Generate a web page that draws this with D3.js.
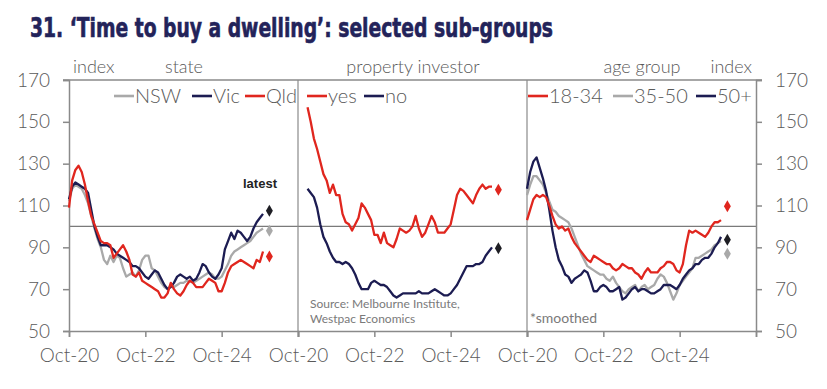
<!DOCTYPE html>
<html><head><meta charset="utf-8">
<script src="https://cdn.jsdelivr.net/npm/d3@7/dist/d3.min.js"></script>
<style>
html,body{margin:0;padding:0;background:#fff;}
svg{display:block;}
</style></head>
<body>
<svg id="chart" width="827" height="389"></svg>
<script>
// ---------------- DATA ----------------
const titleText = "31. \u2018Time to buy a dwelling\u2019: selected sub-groups";
const yTicks = [50, 70, 90, 110, 130, 150, 170];
const xTickMonths = [0, 24, 48, 72];          // months since Oct-20
const xTickLabels = ["Oct-20", "Oct-22", "Oct-24"];
const panelTitles = ["state", "property investor", "age group"];

// monthly, Oct-20 .. Nov-25 (index 0..61)
const nsw = [112,118,120,119,118,115,111,105,99,94, 90,84,82,86,83,86,85,80,76,77,
  78,76,79,84,86,86,80,79,76,73, 71,70,72,71,72,73,73,74,74,73,
  74,75,76,77,78,77,75,75,76,79, 82,86,88,89,90,91,92,93,95,97, 98,99];
const vic = [113,119,121,120,119,118,116,108,100,95, 91,91,91,90,89,87,86,85,84,83,
  81,81,80,78,76,75,77,79,78,75, 72,70,71,73,76,77,76,75,76,74,
  75,78,82,81,78,76,75,77,80,89, 93,97,94,98,97,95,93,95,99,102, 104,106];
const qld = [109,122,127,129,126,120,112,105,101,97, 93,92,92,91,85,87,89,91,88,84,
  77,76,78,74,73,72,71,70,69,66, 66,68,73,70,68,67,69,72,74,73,
  71,71,71,73,75,74,73,69,69,73, 78,81,82,83,84,83,82,81,80,84, 83,88];

const investorYes = [null,null,null,157,150,142,137,131,125,122, 116,120,115,115,106,102,101,98,101,104,
  111,109,106,103,96,96,92,97,92,91, 90,94,99,98,97,98,100,105,99,95,
  97,101,105,102,97,97,97,99,101,108, 115,118,117,115,113,111,115,118,120,118, 119,119];
const investorNo = [null,null,null,118,116,114,109,101,95,92, 88,85,83,83,82,83,82,80,77,73,
  70,70,70,73,74,73,72,72,71,69, 67,66,67,68,68,68,68,68,69,68,
  68,68,69,70,69,68,67,67,68,70, 72,75,78,81,81,81,82,82,83,86, 88,90];

const age1834 = [103,108,113,115,114,115,114,110,105,101, 99,100,98,99,95,92,90,88,86,84,
  83,86,85,84,83,82,82,80,79,80, 82,81,80,80,78,77,75,78,80,78,
  78,78,80,81,83,83,82,79,78,82, 91,98,97,98,97,96,95,97,100,102, 102,103];
const age3550 = [115,120,124,124,122,120,116,112,108,107, 105,104,103,102,99,95,91,87,84,81,
  80,79,78,77,77,75,74,76,73,71, 69,68,70,71,72,69,71,72,70,71,
  72,75,77,76,73,69,65,68,72,74, 76,78,80,85,85,86,87,88,89,91, 92,93];
const age50plus = [118,126,131,133,128,123,117,108,98,90, 84,81,77,76,73,75,76,77,79,78,
  74,69,69,71,72,71,69,69,70,71, 65,66,68,70,71,69,70,70,69,68,
  68,69,70,72,72,72,71,70,72,75, 77,79,80,82,82,84,85,85,87,90, 92,95];

const latestMonth = 63;
const latestState = [107.5, 97.9, 85.6];      // Vic, NSW, Qld
const latestInvestor = [117.5, 89.6];          // yes, no
const latestAge = [109.6, 93.6, 86.9];         // 18-34, 50+, 35-50

// ---------------- STYLE ----------------
const RED = "#e0261e", NAVY = "#1c1c52", GREY = "#a9a9a9", BLACK = "#1e1e24";
const AXIS = "#8a8a8a", TXT = "#5a5a5a";
const FONT = "Lato, 'Open Sans', sans-serif";
const FW = 300;

const panels = [
  { x0: 69,  series: [ {name:"NSW", data:nsw, color:GREY}, {name:"Vic", data:vic, color:NAVY}, {name:"Qld", data:qld, color:RED} ],
    legend: [ {name:"NSW", color:GREY, x:114}, {name:"Vic", color:NAVY, x:192}, {name:"Qld", color:RED, x:245} ],
    latest: [ {v:latestState[0], c:BLACK}, {v:latestState[1], c:GREY}, {v:latestState[2], c:RED} ] },
  { x0: 298, series: [ {name:"yes", data:investorYes, color:RED}, {name:"no", data:investorNo, color:NAVY} ],
    legend: [ {name:"yes", color:RED, x:307}, {name:"no", color:NAVY, x:364} ],
    latest: [ {v:latestInvestor[0], c:RED}, {v:latestInvestor[1], c:BLACK} ] },
  { x0: 527, series: [ {name:"35-50", data:age3550, color:GREY}, {name:"50+", data:age50plus, color:NAVY}, {name:"18-34", data:age1834, color:RED} ],
    legend: [ {name:"18-34", color:RED, x:528}, {name:"35-50", color:GREY, x:613}, {name:"50+", color:NAVY, x:696} ],
    latest: [ {v:latestAge[0], c:RED}, {v:latestAge[1], c:BLACK}, {v:latestAge[2], c:GREY} ] }
];
const panelW = 229;
const plotTop = 80, plotBottom = 331;

const svg = d3.select("#chart");
svg.append("rect").attr("width", 827).attr("height", 389).attr("fill", "#fff");

const y = d3.scaleLinear().domain([50, 170]).range([plotBottom, plotTop]);

// title
svg.append("text")
  .attr("x", 30).attr("y", 37)
  .attr("font-family", "'Liberation Sans Narrow', 'DejaVu Sans Condensed', 'Roboto', sans-serif")
  .attr("font-stretch", "condensed")
  .attr("font-weight", 700).attr("font-size", 27)
  .attr("fill", "#23235a")
  .attr("stroke", "#23235a").attr("stroke-width", 0.6)
  .attr("textLength", 523).attr("lengthAdjust", "spacingAndGlyphs")
  .text(titleText);

const xLeft = panels[0].x0, xRight = panels[2].x0 + panelW;

// reference line at 100
svg.append("line").attr("x1", xLeft).attr("x2", xRight)
  .attr("y1", y(100)).attr("y2", y(100)).attr("stroke", "#7a7a7a").attr("stroke-width", 1.2);

// left & right y axes
const yAxisL = d3.axisLeft(y).tickValues(yTicks).tickSize(6).tickPadding(13);
const yAxisR = d3.axisRight(y).tickValues(yTicks).tickSize(6).tickPadding(13);
const gL = svg.append("g").attr("transform", `translate(${xLeft},0)`).call(yAxisL);
const gR = svg.append("g").attr("transform", `translate(${xRight},0)`).call(yAxisR);
[gL, gR].forEach(g => {
  g.select(".domain").attr("stroke", AXIS).attr("stroke-width", 1.5);
  g.selectAll(".tick line").attr("stroke", AXIS).attr("stroke-width", 1.5);
  g.selectAll(".tick text").attr("font-family", FONT).attr("font-weight", FW).attr("font-size", 19).attr("fill", TXT);
});

// top border
svg.append("line").attr("x1", xLeft - 6).attr("x2", xRight + 6)
  .attr("y1", plotTop).attr("y2", plotTop).attr("stroke", AXIS).attr("stroke-width", 1.5);

panels.forEach((p, i) => {
  const x = d3.scaleLinear().domain([0, 72]).range([p.x0, p.x0 + panelW]);

  // x axis per panel
  const xAxis = d3.axisBottom(x).tickValues(xTickMonths).tickSize(6).tickPadding(12)
    .tickFormat((d, k) => xTickLabels[k] || "");
  const gx = svg.append("g").attr("transform", `translate(0,${plotBottom})`).call(xAxis);
  gx.select(".domain").attr("stroke", AXIS).attr("stroke-width", 1.5);
  gx.selectAll(".tick line").attr("stroke", AXIS).attr("stroke-width", 1.5);
  gx.selectAll(".tick text").attr("font-family", FONT).attr("font-weight", FW).attr("font-size", 19).attr("fill", TXT);

  // panel divider
  if (i > 0) {
    svg.append("line").attr("x1", x(0)).attr("x2", x(0)).attr("y1", plotTop).attr("y2", plotBottom)
      .attr("stroke", AXIS).attr("stroke-width", 1.2);
  }

  const line = d3.line().defined(d => d != null).x((d, k) => x(k)).y(d => y(d));
  p.series.forEach(s => {
    svg.append("path").attr("d", line(s.data)).attr("fill", "none")
      .attr("stroke", s.color).attr("stroke-width", 2.3).attr("stroke-linejoin", "round");
  });

  // latest diamonds
  const sym = d3.symbol().type(d3.symbolDiamond).size(42);
  p.latest.forEach(l => {
    svg.append("path").attr("d", sym()).attr("transform", `translate(${x(latestMonth)},${y(l.v)})`)
      .attr("fill", l.c);
  });

  // legend
  p.legend.forEach(l => {
    svg.append("line").attr("x1", l.x).attr("x2", l.x + 20).attr("y1", 96).attr("y2", 96)
      .attr("stroke", l.color).attr("stroke-width", 2.6);
    svg.append("text").attr("x", l.x + 21).attr("y", 102.5)
      .attr("font-family", FONT).attr("font-weight", FW).attr("font-size", 20).attr("fill", TXT).text(l.name);
  });
});

// header labels
const hdr = (t, xPos, anchor) => svg.append("text").attr("x", xPos).attr("y", 73)
  .attr("text-anchor", anchor).attr("font-family", FONT).attr("font-weight", FW)
  .attr("font-size", 18).attr("fill", TXT).text(t);
hdr("index", 73, "start");
hdr(panelTitles[0], 184, "middle");
hdr(panelTitles[1], 413, "middle");
hdr(panelTitles[2], 642, "middle");
hdr("index", 752, "end");

// annotations
svg.append("text").attr("x", 243).attr("y", 188)
  .attr("font-family", "'Liberation Sans', Arial, sans-serif").attr("font-weight", 700)
  .attr("font-size", 13).attr("fill", "#222").text("latest");
svg.append("text").attr("x", 310).attr("y", 308)
  .attr("font-family", FONT).attr("font-size", 12).attr("fill", "#7a7a7a").text("Source: Melbourne Institute,");
svg.append("text").attr("x", 310).attr("y", 323)
  .attr("font-family", FONT).attr("font-size", 12).attr("fill", "#7a7a7a").text("Westpac Economics");
svg.append("text").attr("x", 530).attr("y", 323)
  .attr("font-family", FONT).attr("font-size", 14).attr("fill", "#7a7a7a").text("*smoothed");
</script>
</body></html>
